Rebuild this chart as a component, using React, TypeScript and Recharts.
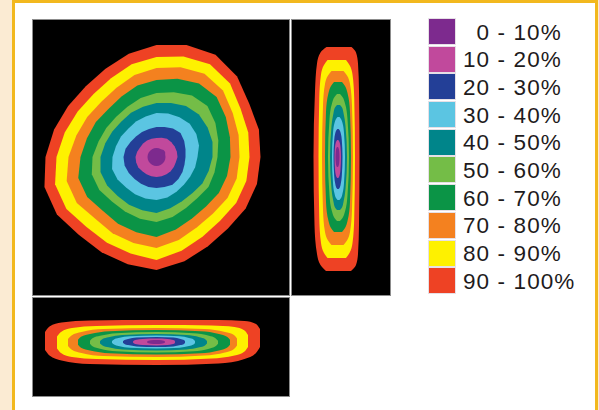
import { RadarChart, Radar, PolarAngleAxis, PolarRadiusAxis, ComposedChart, Area, XAxis, YAxis } from 'recharts'

// dose bands, innermost first
const bandLabels = ['0 - 10%', '10 - 20%', '20 - 30%', '30 - 40%', '40 - 50%', '50 - 60%', '60 - 70%', '70 - 80%', '80 - 90%', '90 - 100%']
const bandColors = ['#7d2a8e', '#c1499c', '#233f97', '#5bc5e2', '#00858a', '#74bd47', '#0b9446', '#f4811f', '#fef100', '#ee4224']

// main (axial) view: contour radius per bearing, clockwise from top
const mainAngles = [0, 15, 30, 45, 60, 75, 90, 105, 120, 135, 150, 165, 180, 195, 210, 225, 240, 255, 270, 285, 300, 315, 330, 345]
const mainPurple = [9, 9, 9, 10, 10, 9, 9, 9, 9, 9, 9, 9, 9, 9, 9, 9, 9, 9, 9, 9, 9, 9, 9, 9]
const mainMagenta = [19, 20, 21, 21, 21, 21, 21, 20, 20, 20, 20, 20, 20, 20, 20, 20, 21, 21, 21, 20, 19, 19, 19, 19]
const mainDarkBlue = [30, 31, 33, 34, 32, 30, 29, 29, 30, 31, 32, 31, 31, 31, 31, 31, 32, 33, 33, 32, 30, 29, 29, 29]
const mainLightBlue = [44, 45, 46, 47, 46, 44, 41, 40, 39, 39, 40, 42, 43, 43, 43, 43, 45, 46, 44, 42, 41, 40, 41, 42]
const mainTeal = [54, 56, 59, 60, 59, 58, 56, 54, 53, 51, 51, 53, 56, 55, 55, 55, 57, 58, 56, 53, 51, 50, 51, 52]
const mainLightGreen = [64, 67, 71, 72, 68, 64, 61, 60, 60, 58, 59, 62, 65, 64, 63, 63, 66, 67, 64, 60, 58, 57, 58, 61]
const mainGreen = [77, 81, 85, 85, 80, 76, 74, 73, 72, 70, 71, 75, 80, 78, 77, 76, 80, 81, 76, 72, 70, 68, 70, 74]
const mainOrange = [89, 93, 96, 94, 88, 85, 83, 83, 82, 80, 81, 86, 91, 89, 88, 87, 92, 93, 88, 83, 80, 78, 80, 85]
const mainYellow = [100, 104, 107, 104, 97, 95, 93, 93, 92, 90, 92, 97, 103, 100, 99, 99, 104, 105, 100, 95, 91, 89, 91, 96]
const mainRed = [112, 116, 118, 114, 107, 106, 104, 104, 103, 101, 103, 108, 113, 111, 110, 110, 115, 116, 111, 106, 102, 100, 102, 107]
const mainBands = [mainPurple, mainMagenta, mainDarkBlue, mainLightBlue, mainTeal, mainLightGreen, mainGreen, mainOrange, mainYellow, mainRed]

// side view: [y (down), z from, z to]
const sidePurple = [[-10, 0.7, 1.3], [-9.5, 0.2, 1.8], [-8.5, -0.2, 2.2], [-6, -0.7, 2.7], [0, -1, 3], [6, -0.7, 2.7], [8.5, -0.2, 2.2], [9.5, 0.2, 1.8], [10, 0.7, 1.3]]
const sideMagenta = [[-17, 0.75, 1.75], [-16, 0, 2.5], [-14.5, -0.7, 3.2], [-10, -1.5, 4], [0, -2, 4.5], [12.5, -1.5, 4], [18, -0.7, 3.2], [20, 0, 2.5], [21, 0.75, 1.75]]
const sideDarkBlue = [[-28, 0.8, 2.2], [-26.5, -0.3, 3.3], [-24, -1.2, 4.2], [-17, -2.3, 5.3], [0, -3, 6], [19, -2.3, 5.3], [27, -1.2, 4.2], [30.5, -0.3, 3.3], [32, 0.8, 2.2]]
const sideLightBlue = [[-40, 1, 3], [-38, -0.5, 4.5], [-34, -2, 6], [-24, -3.5, 7.5], [0, -4.5, 8.5], [26, -3.5, 7.5], [36.5, -2, 6], [41, -0.5, 4.5], [43, 1, 3]]
const sideTeal = [[-52, 0.5, 3.5], [-49.5, -1.5, 5.5], [-44, -3, 7], [-31, -5, 9], [0, -6.5, 10.5], [32, -5, 9], [45, -3, 7], [50.5, -1.5, 5.5], [53, 0.5, 3.5]]
const sideLightGreen = [[-63, 0.5, 3.5], [-60, -2, 6], [-53.5, -4.5, 8.5], [-38, -7, 11], [0, -8.5, 12.5], [38.5, -7, 11], [54.5, -4.5, 8.5], [61, -2, 6], [64, 0.5, 3.5]]
const sideGreen = [[-75, -2.5, 5.5], [-71, -5.5, 8.5], [-64, -8, 11], [-45, -10.5, 13.5], [0, -11.5, 14.5], [45, -10.5, 13.5], [64, -8, 11], [71, -5.5, 8.5], [75, -2.5, 5.5]]
const sideOrange = [[-86, -5, 7], [-81.5, -8.5, 10.5], [-73, -11.5, 13.5], [-51.5, -13.5, 15.5], [0, -14.5, 16.5], [53, -13.5, 15.5], [75, -11.5, 13.5], [83.5, -8.5, 10.5], [88, -5, 7]]
const sideYellow = [[-97, -9, 9.5], [-92, -12.5, 13], [-82.5, -15.5, 16], [-58, -17.25, 17.75], [0, -18, 18.5], [60.5, -17.25, 17.75], [86, -15.5, 16], [96, -12.5, 13], [101, -9, 9.5]]
const sideRed = [[-110, -10, 15], [-104.5, -16, 19.5], [-93.5, -19.5, 21.5], [-66, -21.5, 22.5], [0, -23, 23], [68, -22, 22.5], [97, -19.5, 21.5], [108, -16, 19.5], [114, -10.5, 14.5]]
const sideBands = [sidePurple, sideMagenta, sideDarkBlue, sideLightBlue, sideTeal, sideLightGreen, sideGreen, sideOrange, sideYellow, sideRed]

// bottom view: [x, z from (top), z to (bottom)]
const bottomPurple = [[-9.5, -0.3, 0.3], [-9, -0.8, 0.8], [-8, -1.25, 1.25], [-5.7, -1.8, 1.8], [0, -2, 2], [5, -1.8, 1.8], [7.2, -1.25, 1.25], [8.2, -0.8, 0.8], [8.5, -0.3, 0.3]]
const bottomMagenta = [[-23.5, -0.5, 0.5], [-22.5, -1.4, 1.4], [-20, -2.2, 2.2], [-14, -3.1, 3.1], [0, -3.5, 3.5], [11, -3.1, 3.1], [15.5, -2.2, 2.2], [18, -1.4, 1.4], [18.5, -0.5, 0.5]]
const bottomDarkBlue = [[-33.5, -0.75, 0.75], [-32, -2, 2], [-28.5, -3.1, 3.1], [-20, -4.4, 4.4], [0, -5, 5], [17, -4.4, 4.4], [24, -3.1, 3.1], [27.5, -2, 2], [28.5, -0.75, 0.75]]
const bottomLightBlue = [[-44.5, -1, 1], [-42.5, -2.6, 2.6], [-38, -4, 4], [-26.5, -5.7, 5.7], [0, -6.5, 6.5], [23, -5.7, 5.7], [32.5, -4, 4], [37, -2.6, 2.6], [38.5, -1, 1]]
const bottomTeal = [[-56.5, -1, 1.5], [-54, -3, 3.5], [-48, -4.85, 5.35], [-34, -7, 7.5], [0, -8, 8.5], [30, -7, 7.5], [43, -4.85, 5.35], [48.5, -3, 3.5], [50.5, -1, 1.5]]
const bottomLightGreen = [[-66.5, -1.25, 1.75], [-64, -3.85, 4.35], [-56.5, -6.15, 6.65], [-40, -8.75, 9.25], [0, -10, 10.5], [37, -8.75, 9.25], [52.5, -6.15, 6.65], [59, -3.85, 4.35], [61.5, -1.25, 1.75]]
const bottomGreen = [[-78.5, -2.25, 2.75], [-75.5, -5.25, 5.75], [-66.5, -8, 8.5], [-47, -10.75, 11.25], [0, -12, 12.5], [44, -10.75, 11.25], [62.5, -8, 8.5], [70.5, -5.25, 5.75], [73.5, -2.25, 2.75]]
const bottomOrange = [[-88.5, -3, 4], [-85, -6.5, 7.5], [-75, -10, 11], [-53, -13, 14], [0, -14, 15], [48, -13, 13.5], [68.5, -10, 10.5], [77.5, -7, 7], [80.5, -3.5, 3.5]]
const bottomYellow = [[-99.5, -5.5, 6.5], [-95.5, -10, 11], [-84.5, -14, 15], [-60, -16, 17], [0, -17, 18], [55, -16.5, 16.5], [78, -15, 13.5], [88, -11.5, 9.5], [91.5, -7, 5]]
const bottomRed = [[-111.5, -10, 8], [-107, -15.5, 13.5], [-95, -19.5, 18.5], [-67, -21.5, 22], [0, -22, 23], [62, -22, 21.5], [88, -21, 17], [99.5, -18, 11], [103.5, -13, 5]]
const bottomBands = [bottomPurple, bottomMagenta, bottomDarkBlue, bottomLightBlue, bottomTeal, bottomLightGreen, bottomGreen, bottomOrange, bottomYellow, bottomRed]

const mainData = mainAngles.map((angle, i) => {
  const row: Record<string, number> = { angle }
  mainBands.forEach((band, b) => { row['b' + b] = band[i] })
  return row
})

const order = [9, 8, 7, 6, 5, 4, 3, 2, 1, 0] // outermost drawn first

const panelStyle = (left: number, top: number, width: number, height: number): React.CSSProperties => ({
  position: 'absolute', left, top, width, height, background: '#000',
  border: '1px solid #8c8c8c', boxSizing: 'border-box', overflow: 'hidden',
})

const noMargin = { top: 0, right: 0, bottom: 0, left: 0 }

export default function App() {
  return (
    <div style={{ position: 'absolute', left: 0, top: 0, width: 599, height: 410, background: '#fbebd3', overflow: 'hidden' }}>
      <div style={{
        position: 'absolute', left: 12, top: 0, width: 586, height: 420, background: '#fff', boxSizing: 'border-box',
        borderLeft: '3px solid #f2b81e', borderTop: '3px solid #f2b81e', borderRight: '3px solid #f2b81e',
      }} />

      {/* main view */}
      <div style={panelStyle(32, 19, 258, 277)}>
        <RadarChart width={256} height={275} data={mainData} cx={123.5} cy={137} outerRadius={120} margin={noMargin}>
          <PolarAngleAxis dataKey="angle" tick={false} axisLine={false} tickLine={false} />
          <PolarRadiusAxis domain={[0, 120]} tick={false} axisLine={false} tickLine={false} />
          {order.map(b => (
            <Radar key={b} dataKey={'b' + b} fill={bandColors[b]} fillOpacity={1} stroke="none" isAnimationActive={false} dot={false} />
          ))}
        </RadarChart>
      </div>

      {/* side view */}
      <div style={panelStyle(291, 19, 100, 277)}>
        <ComposedChart width={98} height={275} layout="vertical" margin={noMargin}>
          <XAxis type="number" domain={[-44.5, 53.5]} hide allowDataOverflow />
          <YAxis type="number" dataKey="y" domain={[-137, 138]} hide allowDataOverflow />
          {order.map(b => (
            <Area key={b} type="monotone" data={sideBands[b].map(([y, lo, hi]) => ({ y, r: [lo, hi] }))} dataKey="r"
              fill={bandColors[b]} fillOpacity={1} stroke="none" isAnimationActive={false} dot={false} activeDot={false} />
          ))}
        </ComposedChart>
      </div>

      {/* bottom view */}
      <div style={panelStyle(32, 297, 258, 100)}>
        <ComposedChart width={256} height={98} margin={noMargin}>
          <XAxis type="number" dataKey="x" domain={[-123.5, 132.5]} hide allowDataOverflow />
          <YAxis type="number" domain={[-44, 54]} reversed hide allowDataOverflow />
          {order.map(b => (
            <Area key={b} type="monotone" data={bottomBands[b].map(([x, lo, hi]) => ({ x, r: [lo, hi] }))} dataKey="r"
              fill={bandColors[b]} fillOpacity={1} stroke="none" isAnimationActive={false} dot={false} activeDot={false} />
          ))}
        </ComposedChart>
      </div>

      {/* legend */}
      <div style={{ position: 'absolute', left: 429, top: 19, fontFamily: '"Liberation Sans", Arial, sans-serif', fontSize: 22.5, letterSpacing: 1.1, color: '#1e1b1c' }}>
        {bandLabels.map((label, i) => (
          <div key={label} style={{ display: 'flex', alignItems: 'flex-start', height: 27.7 }}>
            <div style={{ width: 26, height: 25, background: bandColors[i], boxShadow: '0 0 0 1px #e6e0e6' }} />
            <div style={{ marginLeft: 8 + (i === 0 ? 13.5 : 0), lineHeight: '27.7px', marginTop: -0.5, whiteSpace: 'nowrap' }}>{label}</div>
          </div>
        ))}
      </div>
    </div>
  )
}
